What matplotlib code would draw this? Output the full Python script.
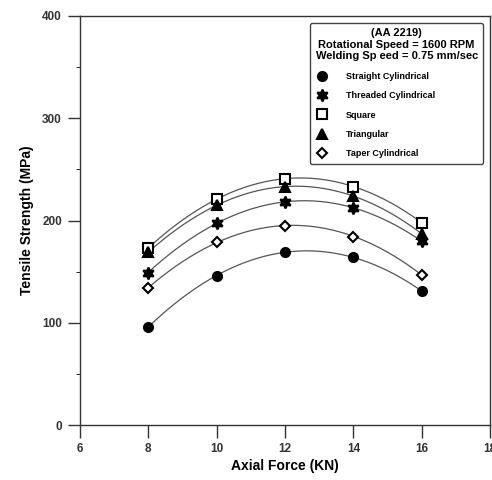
import numpy as np
import matplotlib
matplotlib.use("Agg")
import matplotlib.pyplot as plt
from matplotlib.lines import Line2D

plt.rcParams['font.family'] = ['Liberation Sans', 'DejaVu Sans']
plt.rcParams['font.weight'] = 'bold'

axial_force = [8, 10, 12, 14, 16]
straight_cyl = [96, 146, 169, 164, 131]
threaded_cyl = [149, 198, 218, 212, 180]
square = [173, 221, 241, 233, 198]
triangular = [169, 215, 233, 224, 187]
taper_cyl = [134, 179, 195, 184, 147]

series = [
    ("Straight Cylindrical", straight_cyl, 'o', 'black', 6.5),
    ("Threaded Cylindrical", threaded_cyl, (6, 1, 0), 'black', 8.5),
    ("Square", square, 's', 'white', 6.5),
    ("Triangular", triangular, '^', 'black', 6.5),
    ("Taper Cylindrical", taper_cyl, 'D', 'white', 5.5),
]

fig = plt.figure(figsize=(4.92, 4.80), dpi=100)
ax = fig.add_axes([80/492, 55/480, 410/492, 409/480])

xs = np.linspace(8, 16, 200)
handles = []
for name, vals, mk, fc, ms in series:
    coef = np.polyfit(axial_force, vals, 2)
    ax.plot(xs, np.polyval(coef, xs), color='#555555', lw=0.9, zorder=2)
    ax.plot(axial_force, vals, linestyle='none', marker=mk, markersize=ms,
            markerfacecolor=fc, markeredgecolor='black', markeredgewidth=1.5, zorder=3)
    handles.append(Line2D([], [], linestyle='none', marker=mk, markersize=ms,
                          markerfacecolor=fc, markeredgecolor='black', markeredgewidth=1.5,
                          label=name))

ax.set_xlim(6, 18)
ax.set_ylim(0, 400)
ax.set_xticks([6, 8, 10, 12, 14, 16, 18])
ax.set_yticks([0, 100, 200, 300, 400])
ax.set_yticks([50, 150, 250, 350], minor=True)
ax.tick_params(axis='both', which='major', direction='out', length=9, width=1, labelsize=8.5,
               colors='#333333', pad=4)
ax.tick_params(axis='y', which='minor', direction='out', length=3, width=0.6)
for lab in ax.get_xticklabels() + ax.get_yticklabels():
    lab.set_fontweight('bold')
for s in ax.spines.values():
    s.set_linewidth(1.0)
    s.set_color('#333333')

ax.set_xlabel("Axial Force (KN)", fontsize=10, fontweight='bold', labelpad=3)
ax.set_ylabel("Tensile Strength (MPa)", fontsize=10, fontweight='bold', labelpad=6)

leg = ax.legend(handles=handles, loc='upper right', bbox_to_anchor=(0.99, 0.99),
                title="(AA 2219)\nRotational Speed = 1600 RPM\nWelding Sp eed = 0.75 mm/sec",
                title_fontproperties={'weight': 'bold', 'size': 8},
                prop={'weight': 'bold', 'size': 6.5},
                frameon=True, fancybox=True, edgecolor='#444444',
                handlelength=1.4, handletextpad=2.0, labelspacing=1.15,
                borderpad=0.6, borderaxespad=0.3, markerscale=1.0)
leg.get_frame().set_linewidth(1.0)
leg.get_frame().set_alpha(1)
leg.get_title().set_multialignment('center')
leg._legend_box.align = 'left'

fig.savefig("out.png", dpi=100)
